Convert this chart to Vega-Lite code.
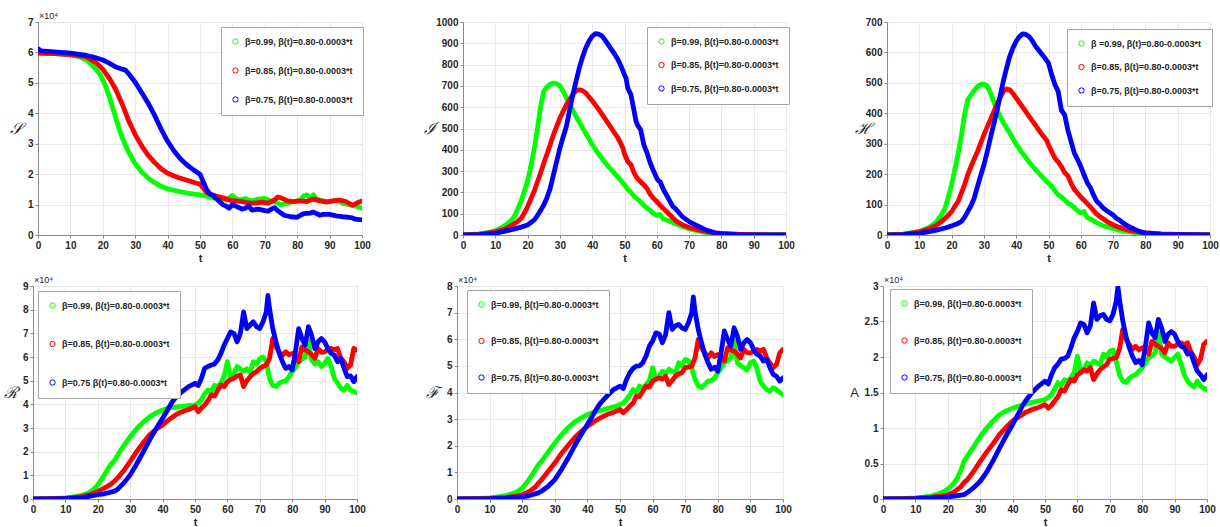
{
"$schema":"https://vega.github.io/schema/vega-lite/v6.json",
"background":"white",
"padding":{"left":2,"top":11,"right":5,"bottom":5},
"datasets":{
"S":[
{"beta":"0.99","t":0,"v":59800},{"beta":"0.99","t":5,"v":59600},{"beta":"0.99","t":10,"v":59200},{"beta":"0.99","t":13,"v":58500},{"beta":"0.99","t":15,"v":57500},{"beta":"0.99","t":17,"v":55500},{"beta":"0.99","t":19,"v":53000},{"beta":"0.99","t":20,"v":51000},{"beta":"0.99","t":21,"v":48500},{"beta":"0.99","t":22,"v":45500},{"beta":"0.99","t":23,"v":42000},{"beta":"0.99","t":24,"v":38500},{"beta":"0.99","t":25,"v":35000},{"beta":"0.99","t":26,"v":32000},{"beta":"0.99","t":27,"v":29500},{"beta":"0.99","t":28,"v":27200},{"beta":"0.99","t":30,"v":23500},{"beta":"0.99","t":32,"v":20700},{"beta":"0.99","t":34,"v":18700},{"beta":"0.99","t":36,"v":17200},{"beta":"0.99","t":38,"v":16000},{"beta":"0.99","t":40,"v":15200},{"beta":"0.99","t":43,"v":14400},{"beta":"0.99","t":46,"v":13800},{"beta":"0.99","t":50,"v":13200},{"beta":"0.99","t":52,"v":12800},{"beta":"0.99","t":54,"v":12200},{"beta":"0.99","t":56,"v":12000},{"beta":"0.99","t":58,"v":11500},{"beta":"0.99","t":60,"v":13000},{"beta":"0.99","t":61,"v":12000},{"beta":"0.99","t":62,"v":11500},{"beta":"0.99","t":64,"v":12000},{"beta":"0.99","t":66,"v":11200},{"beta":"0.99","t":68,"v":11800},{"beta":"0.99","t":70,"v":12000},{"beta":"0.99","t":72,"v":11200},{"beta":"0.99","t":74,"v":10500},{"beta":"0.99","t":75,"v":10000},{"beta":"0.99","t":77,"v":10500},{"beta":"0.99","t":79,"v":11000},{"beta":"0.99","t":81,"v":11500},{"beta":"0.99","t":82,"v":12800},{"beta":"0.99","t":83,"v":13200},{"beta":"0.99","t":84,"v":12200},{"beta":"0.99","t":85,"v":13200},{"beta":"0.99","t":86,"v":11800},{"beta":"0.99","t":88,"v":11200},{"beta":"0.99","t":90,"v":11000},{"beta":"0.99","t":92,"v":11500},{"beta":"0.99","t":94,"v":10500},{"beta":"0.99","t":96,"v":10000},{"beta":"0.99","t":98,"v":9500},{"beta":"0.99","t":100,"v":8800},
{"beta":"0.85","t":0,"v":59800},{"beta":"0.85","t":5,"v":59600},{"beta":"0.85","t":10,"v":59300},{"beta":"0.85","t":15,"v":58500},{"beta":"0.85","t":18,"v":56500},{"beta":"0.85","t":20,"v":54500},{"beta":"0.85","t":22,"v":51500},{"beta":"0.85","t":24,"v":47800},{"beta":"0.85","t":26,"v":43000},{"beta":"0.85","t":28,"v":37500},{"beta":"0.85","t":30,"v":33000},{"beta":"0.85","t":32,"v":29300},{"beta":"0.85","t":34,"v":26200},{"beta":"0.85","t":36,"v":23800},{"beta":"0.85","t":38,"v":21800},{"beta":"0.85","t":40,"v":20300},{"beta":"0.85","t":43,"v":19000},{"beta":"0.85","t":46,"v":18000},{"beta":"0.85","t":49,"v":17000},{"beta":"0.85","t":50,"v":16700},{"beta":"0.85","t":51,"v":15500},{"beta":"0.85","t":52,"v":14000},{"beta":"0.85","t":53,"v":13500},{"beta":"0.85","t":55,"v":12800},{"beta":"0.85","t":57,"v":12200},{"beta":"0.85","t":59,"v":11500},{"beta":"0.85","t":61,"v":11200},{"beta":"0.85","t":63,"v":11000},{"beta":"0.85","t":65,"v":10500},{"beta":"0.85","t":67,"v":10500},{"beta":"0.85","t":69,"v":10800},{"beta":"0.85","t":71,"v":10500},{"beta":"0.85","t":73,"v":11500},{"beta":"0.85","t":74,"v":12500},{"beta":"0.85","t":75,"v":12200},{"beta":"0.85","t":77,"v":11200},{"beta":"0.85","t":79,"v":11000},{"beta":"0.85","t":81,"v":11200},{"beta":"0.85","t":83,"v":11000},{"beta":"0.85","t":85,"v":11800},{"beta":"0.85","t":87,"v":11200},{"beta":"0.85","t":89,"v":10800},{"beta":"0.85","t":91,"v":11200},{"beta":"0.85","t":93,"v":11500},{"beta":"0.85","t":95,"v":11000},{"beta":"0.85","t":97,"v":9800},{"beta":"0.85","t":98,"v":10200},{"beta":"0.85","t":99,"v":10800},{"beta":"0.85","t":100,"v":11200},
{"beta":"0.75","t":0,"v":61200},{"beta":"0.75","t":1,"v":60500},{"beta":"0.75","t":5,"v":60200},{"beta":"0.75","t":10,"v":59800},{"beta":"0.75","t":15,"v":59000},{"beta":"0.75","t":18,"v":58200},{"beta":"0.75","t":20,"v":57500},{"beta":"0.75","t":22,"v":56500},{"beta":"0.75","t":24,"v":55200},{"beta":"0.75","t":26,"v":54500},{"beta":"0.75","t":27,"v":54200},{"beta":"0.75","t":28,"v":53000},{"beta":"0.75","t":30,"v":50200},{"beta":"0.75","t":32,"v":46800},{"beta":"0.75","t":34,"v":43300},{"beta":"0.75","t":36,"v":39300},{"beta":"0.75","t":38,"v":34800},{"beta":"0.75","t":40,"v":30800},{"beta":"0.75","t":42,"v":27600},{"beta":"0.75","t":44,"v":25000},{"beta":"0.75","t":46,"v":23000},{"beta":"0.75","t":48,"v":21400},{"beta":"0.75","t":50,"v":20000},{"beta":"0.75","t":51,"v":17500},{"beta":"0.75","t":52,"v":15000},{"beta":"0.75","t":53,"v":13500},{"beta":"0.75","t":54,"v":13000},{"beta":"0.75","t":55,"v":12000},{"beta":"0.75","t":56,"v":11000},{"beta":"0.75","t":57,"v":10000},{"beta":"0.75","t":58,"v":9500},{"beta":"0.75","t":59,"v":8800},{"beta":"0.75","t":60,"v":10000},{"beta":"0.75","t":61,"v":9500},{"beta":"0.75","t":62,"v":9000},{"beta":"0.75","t":63,"v":8500},{"beta":"0.75","t":64,"v":8800},{"beta":"0.75","t":65,"v":9500},{"beta":"0.75","t":66,"v":8200},{"beta":"0.75","t":68,"v":8500},{"beta":"0.75","t":70,"v":8000},{"beta":"0.75","t":71,"v":7800},{"beta":"0.75","t":72,"v":8500},{"beta":"0.75","t":73,"v":9000},{"beta":"0.75","t":74,"v":8000},{"beta":"0.75","t":75,"v":7200},{"beta":"0.75","t":76,"v":6500},{"beta":"0.75","t":78,"v":6000},{"beta":"0.75","t":80,"v":5800},{"beta":"0.75","t":81,"v":6500},{"beta":"0.75","t":82,"v":7000},{"beta":"0.75","t":84,"v":7200},{"beta":"0.75","t":85,"v":7500},{"beta":"0.75","t":86,"v":7000},{"beta":"0.75","t":87,"v":6500},{"beta":"0.75","t":88,"v":6800},{"beta":"0.75","t":90,"v":6800},{"beta":"0.75","t":92,"v":6300},{"beta":"0.75","t":94,"v":6000},{"beta":"0.75","t":96,"v":5800},{"beta":"0.75","t":97,"v":5600},{"beta":"0.75","t":98,"v":5200},{"beta":"0.75","t":100,"v":5000}
],
"I":[
{"beta":"0.99","t":0,"v":0},{"beta":"0.99","t":5,"v":5},{"beta":"0.99","t":8,"v":12},{"beta":"0.99","t":10,"v":20},{"beta":"0.99","t":12,"v":35},{"beta":"0.99","t":14,"v":55},{"beta":"0.99","t":15,"v":70},{"beta":"0.99","t":16,"v":90},{"beta":"0.99","t":17,"v":125},{"beta":"0.99","t":18,"v":160},{"beta":"0.99","t":19,"v":205},{"beta":"0.99","t":20,"v":255},{"beta":"0.99","t":21,"v":320},{"beta":"0.99","t":22,"v":400},{"beta":"0.99","t":23,"v":495},{"beta":"0.99","t":24,"v":600},{"beta":"0.99","t":25,"v":675},{"beta":"0.99","t":26,"v":695},{"beta":"0.99","t":27,"v":708},{"beta":"0.99","t":28,"v":713},{"beta":"0.99","t":29,"v":710},{"beta":"0.99","t":30,"v":700},{"beta":"0.99","t":31,"v":675},{"beta":"0.99","t":32,"v":645},{"beta":"0.99","t":33,"v":615},{"beta":"0.99","t":34,"v":585},{"beta":"0.99","t":35,"v":557},{"beta":"0.99","t":36,"v":530},{"beta":"0.99","t":38,"v":478},{"beta":"0.99","t":40,"v":425},{"beta":"0.99","t":42,"v":380},{"beta":"0.99","t":44,"v":340},{"beta":"0.99","t":46,"v":305},{"beta":"0.99","t":48,"v":272},{"beta":"0.99","t":50,"v":235},{"beta":"0.99","t":51,"v":215},{"beta":"0.99","t":52,"v":200},{"beta":"0.99","t":53,"v":180},{"beta":"0.99","t":54,"v":168},{"beta":"0.99","t":55,"v":155},{"beta":"0.99","t":56,"v":140},{"beta":"0.99","t":57,"v":125},{"beta":"0.99","t":58,"v":115},{"beta":"0.99","t":59,"v":100},{"beta":"0.99","t":60,"v":92},{"beta":"0.99","t":61,"v":97},{"beta":"0.99","t":62,"v":75},{"beta":"0.99","t":63,"v":70},{"beta":"0.99","t":65,"v":58},{"beta":"0.99","t":67,"v":45},{"beta":"0.99","t":70,"v":30},{"beta":"0.99","t":72,"v":22},{"beta":"0.99","t":75,"v":12},{"beta":"0.99","t":78,"v":6},{"beta":"0.99","t":80,"v":4},{"beta":"0.99","t":85,"v":2},{"beta":"0.99","t":90,"v":1},{"beta":"0.99","t":100,"v":0},
{"beta":"0.85","t":0,"v":0},{"beta":"0.85","t":5,"v":3},{"beta":"0.85","t":10,"v":15},{"beta":"0.85","t":13,"v":28},{"beta":"0.85","t":15,"v":45},{"beta":"0.85","t":17,"v":65},{"beta":"0.85","t":18,"v":78},{"beta":"0.85","t":19,"v":103},{"beta":"0.85","t":20,"v":133},{"beta":"0.85","t":22,"v":204},{"beta":"0.85","t":24,"v":290},{"beta":"0.85","t":25,"v":337},{"beta":"0.85","t":26,"v":380},{"beta":"0.85","t":28,"v":470},{"beta":"0.85","t":30,"v":549},{"beta":"0.85","t":32,"v":611},{"beta":"0.85","t":34,"v":660},{"beta":"0.85","t":35,"v":678},{"beta":"0.85","t":36,"v":682},{"beta":"0.85","t":37,"v":678},{"beta":"0.85","t":38,"v":667},{"beta":"0.85","t":40,"v":630},{"beta":"0.85","t":42,"v":590},{"beta":"0.85","t":44,"v":545},{"beta":"0.85","t":46,"v":500},{"beta":"0.85","t":48,"v":455},{"beta":"0.85","t":49,"v":425},{"beta":"0.85","t":49.5,"v":408},{"beta":"0.85","t":50,"v":380},{"beta":"0.85","t":51,"v":345},{"beta":"0.85","t":52,"v":330},{"beta":"0.85","t":53,"v":290},{"beta":"0.85","t":54,"v":265},{"beta":"0.85","t":55,"v":250},{"beta":"0.85","t":56,"v":235},{"beta":"0.85","t":57,"v":218},{"beta":"0.85","t":58,"v":190},{"beta":"0.85","t":59,"v":172},{"beta":"0.85","t":60,"v":157},{"beta":"0.85","t":61,"v":140},{"beta":"0.85","t":62,"v":125},{"beta":"0.85","t":64,"v":95},{"beta":"0.85","t":65,"v":80},{"beta":"0.85","t":66,"v":65},{"beta":"0.85","t":68,"v":47},{"beta":"0.85","t":70,"v":35},{"beta":"0.85","t":72,"v":27},{"beta":"0.85","t":75,"v":17},{"beta":"0.85","t":78,"v":10},{"beta":"0.85","t":80,"v":8},{"beta":"0.85","t":85,"v":4},{"beta":"0.85","t":90,"v":2},{"beta":"0.85","t":95,"v":1},{"beta":"0.85","t":100,"v":0},
{"beta":"0.75","t":0,"v":0},{"beta":"0.75","t":5,"v":2},{"beta":"0.75","t":10,"v":8},{"beta":"0.75","t":15,"v":25},{"beta":"0.75","t":18,"v":37},{"beta":"0.75","t":20,"v":47},{"beta":"0.75","t":22,"v":70},{"beta":"0.75","t":23,"v":90},{"beta":"0.75","t":24,"v":115},{"beta":"0.75","t":25,"v":141},{"beta":"0.75","t":26,"v":175},{"beta":"0.75","t":27,"v":219},{"beta":"0.75","t":28,"v":282},{"beta":"0.75","t":29,"v":345},{"beta":"0.75","t":30,"v":408},{"beta":"0.75","t":31,"v":460},{"beta":"0.75","t":32,"v":509},{"beta":"0.75","t":33,"v":585},{"beta":"0.75","t":34,"v":658},{"beta":"0.75","t":35,"v":722},{"beta":"0.75","t":36,"v":784},{"beta":"0.75","t":37,"v":835},{"beta":"0.75","t":38,"v":878},{"beta":"0.75","t":39,"v":910},{"beta":"0.75","t":40,"v":933},{"beta":"0.75","t":41,"v":945},{"beta":"0.75","t":42,"v":943},{"beta":"0.75","t":43,"v":935},{"beta":"0.75","t":44,"v":915},{"beta":"0.75","t":45,"v":893},{"beta":"0.75","t":46,"v":870},{"beta":"0.75","t":47,"v":848},{"beta":"0.75","t":48,"v":823},{"beta":"0.75","t":49,"v":790},{"beta":"0.75","t":50,"v":752},{"beta":"0.75","t":50.5,"v":735},{"beta":"0.75","t":51,"v":690},{"beta":"0.75","t":52,"v":658},{"beta":"0.75","t":53,"v":580},{"beta":"0.75","t":53.5,"v":540},{"beta":"0.75","t":54,"v":517},{"beta":"0.75","t":55,"v":494},{"beta":"0.75","t":56,"v":423},{"beta":"0.75","t":57,"v":384},{"beta":"0.75","t":58,"v":337},{"beta":"0.75","t":59,"v":300},{"beta":"0.75","t":60,"v":266},{"beta":"0.75","t":60.5,"v":255},{"beta":"0.75","t":61,"v":251},{"beta":"0.75","t":62,"v":215},{"beta":"0.75","t":63,"v":188},{"beta":"0.75","t":64,"v":160},{"beta":"0.75","t":65,"v":133},{"beta":"0.75","t":66,"v":120},{"beta":"0.75","t":67,"v":102},{"beta":"0.75","t":68,"v":85},{"beta":"0.75","t":70,"v":63},{"beta":"0.75","t":71,"v":55},{"beta":"0.75","t":72,"v":47},{"beta":"0.75","t":73,"v":40},{"beta":"0.75","t":75,"v":25},{"beta":"0.75","t":78,"v":10},{"beta":"0.75","t":80,"v":5},{"beta":"0.75","t":85,"v":2},{"beta":"0.75","t":90,"v":1},{"beta":"0.75","t":100,"v":0}
],
"H":[
{"beta":"0.99","t":0,"v":0},{"beta":"0.99","t":5,"v":3},{"beta":"0.99","t":10,"v":12},{"beta":"0.99","t":13,"v":25},{"beta":"0.99","t":15,"v":40},{"beta":"0.99","t":17,"v":68},{"beta":"0.99","t":18,"v":90},{"beta":"0.99","t":19,"v":125},{"beta":"0.99","t":20,"v":165},{"beta":"0.99","t":21,"v":215},{"beta":"0.99","t":22,"v":265},{"beta":"0.99","t":23,"v":325},{"beta":"0.99","t":24,"v":395},{"beta":"0.99","t":25,"v":445},{"beta":"0.99","t":26,"v":460},{"beta":"0.99","t":27,"v":475},{"beta":"0.99","t":28,"v":488},{"beta":"0.99","t":29,"v":495},{"beta":"0.99","t":30,"v":496},{"beta":"0.99","t":31,"v":490},{"beta":"0.99","t":32,"v":468},{"beta":"0.99","t":33,"v":440},{"beta":"0.99","t":34,"v":413},{"beta":"0.99","t":35,"v":390},{"beta":"0.99","t":36,"v":370},{"beta":"0.99","t":38,"v":335},{"beta":"0.99","t":40,"v":298},{"beta":"0.99","t":42,"v":268},{"beta":"0.99","t":44,"v":240},{"beta":"0.99","t":46,"v":215},{"beta":"0.99","t":48,"v":192},{"beta":"0.99","t":50,"v":170},{"beta":"0.99","t":51,"v":160},{"beta":"0.99","t":52,"v":145},{"beta":"0.99","t":53,"v":132},{"beta":"0.99","t":54,"v":125},{"beta":"0.99","t":55,"v":115},{"beta":"0.99","t":56,"v":105},{"beta":"0.99","t":57,"v":99},{"beta":"0.99","t":58,"v":90},{"beta":"0.99","t":59,"v":80},{"beta":"0.99","t":60,"v":72},{"beta":"0.99","t":61,"v":77},{"beta":"0.99","t":62,"v":57},{"beta":"0.99","t":63,"v":52},{"beta":"0.99","t":65,"v":40},{"beta":"0.99","t":67,"v":30},{"beta":"0.99","t":70,"v":22},{"beta":"0.99","t":72,"v":15},{"beta":"0.99","t":75,"v":10},{"beta":"0.99","t":78,"v":5},{"beta":"0.99","t":80,"v":4},{"beta":"0.99","t":85,"v":2},{"beta":"0.99","t":90,"v":1},{"beta":"0.99","t":100,"v":0},
{"beta":"0.85","t":0,"v":0},{"beta":"0.85","t":5,"v":2},{"beta":"0.85","t":10,"v":10},{"beta":"0.85","t":13,"v":20},{"beta":"0.85","t":15,"v":30},{"beta":"0.85","t":17,"v":45},{"beta":"0.85","t":18,"v":55},{"beta":"0.85","t":19,"v":65},{"beta":"0.85","t":20,"v":77},{"beta":"0.85","t":22,"v":110},{"beta":"0.85","t":24,"v":165},{"beta":"0.85","t":25,"v":198},{"beta":"0.85","t":26,"v":225},{"beta":"0.85","t":28,"v":274},{"beta":"0.85","t":30,"v":329},{"beta":"0.85","t":32,"v":379},{"beta":"0.85","t":34,"v":428},{"beta":"0.85","t":35,"v":450},{"beta":"0.85","t":36,"v":472},{"beta":"0.85","t":37,"v":480},{"beta":"0.85","t":38,"v":477},{"beta":"0.85","t":39,"v":465},{"beta":"0.85","t":40,"v":450},{"beta":"0.85","t":42,"v":420},{"beta":"0.85","t":44,"v":390},{"beta":"0.85","t":45,"v":375},{"beta":"0.85","t":46,"v":360},{"beta":"0.85","t":48,"v":330},{"beta":"0.85","t":49.5,"v":310},{"beta":"0.85","t":50,"v":296},{"beta":"0.85","t":51,"v":274},{"beta":"0.85","t":52,"v":252},{"beta":"0.85","t":53,"v":240},{"beta":"0.85","t":54,"v":225},{"beta":"0.85","t":55,"v":205},{"beta":"0.85","t":56,"v":195},{"beta":"0.85","t":57,"v":170},{"beta":"0.85","t":58,"v":150},{"beta":"0.85","t":60,"v":125},{"beta":"0.85","t":62,"v":103},{"beta":"0.85","t":63,"v":92},{"beta":"0.85","t":65,"v":68},{"beta":"0.85","t":66,"v":60},{"beta":"0.85","t":68,"v":45},{"beta":"0.85","t":70,"v":33},{"beta":"0.85","t":72,"v":25},{"beta":"0.85","t":75,"v":15},{"beta":"0.85","t":80,"v":8},{"beta":"0.85","t":85,"v":4},{"beta":"0.85","t":90,"v":2},{"beta":"0.85","t":95,"v":1},{"beta":"0.85","t":100,"v":0},
{"beta":"0.75","t":0,"v":0},{"beta":"0.75","t":5,"v":1},{"beta":"0.75","t":10,"v":5},{"beta":"0.75","t":15,"v":15},{"beta":"0.75","t":18,"v":23},{"beta":"0.75","t":20,"v":30},{"beta":"0.75","t":22,"v":38},{"beta":"0.75","t":23,"v":44},{"beta":"0.75","t":24,"v":58},{"beta":"0.75","t":25,"v":77},{"beta":"0.75","t":26,"v":96},{"beta":"0.75","t":27,"v":121},{"beta":"0.75","t":28,"v":159},{"beta":"0.75","t":29,"v":195},{"beta":"0.75","t":30,"v":230},{"beta":"0.75","t":31,"v":272},{"beta":"0.75","t":32,"v":318},{"beta":"0.75","t":33,"v":362},{"beta":"0.75","t":34,"v":406},{"beta":"0.75","t":35,"v":455},{"beta":"0.75","t":36,"v":505},{"beta":"0.75","t":37,"v":548},{"beta":"0.75","t":38,"v":587},{"beta":"0.75","t":39,"v":615},{"beta":"0.75","t":40,"v":637},{"beta":"0.75","t":41,"v":652},{"beta":"0.75","t":42,"v":661},{"beta":"0.75","t":43,"v":659},{"beta":"0.75","t":44,"v":652},{"beta":"0.75","t":45,"v":638},{"beta":"0.75","t":46,"v":620},{"beta":"0.75","t":47,"v":607},{"beta":"0.75","t":48,"v":593},{"beta":"0.75","t":49,"v":580},{"beta":"0.75","t":50,"v":565},{"beta":"0.75","t":50.5,"v":545},{"beta":"0.75","t":51,"v":527},{"beta":"0.75","t":52,"v":494},{"beta":"0.75","t":53,"v":472},{"beta":"0.75","t":53.5,"v":440},{"beta":"0.75","t":54,"v":410},{"beta":"0.75","t":55,"v":395},{"beta":"0.75","t":56,"v":345},{"beta":"0.75","t":57,"v":307},{"beta":"0.75","t":58,"v":269},{"beta":"0.75","t":59,"v":248},{"beta":"0.75","t":60,"v":225},{"beta":"0.75","t":61,"v":198},{"beta":"0.75","t":62,"v":172},{"beta":"0.75","t":63,"v":155},{"beta":"0.75","t":64,"v":130},{"beta":"0.75","t":65,"v":110},{"beta":"0.75","t":66,"v":100},{"beta":"0.75","t":67,"v":88},{"beta":"0.75","t":68,"v":80},{"beta":"0.75","t":70,"v":66},{"beta":"0.75","t":71,"v":55},{"beta":"0.75","t":72,"v":49},{"beta":"0.75","t":73,"v":40},{"beta":"0.75","t":75,"v":27},{"beta":"0.75","t":78,"v":12},{"beta":"0.75","t":80,"v":6},{"beta":"0.75","t":85,"v":2},{"beta":"0.75","t":90,"v":1},{"beta":"0.75","t":100,"v":0}
],
"R":[
{"beta":"0.99","t":0,"v":0},{"beta":"0.99","t":5,"v":100},{"beta":"0.99","t":10,"v":500},{"beta":"0.99","t":13,"v":1000},{"beta":"0.99","t":15,"v":1500},{"beta":"0.99","t":17,"v":2500},{"beta":"0.99","t":18,"v":3300},{"beta":"0.99","t":19,"v":4500},{"beta":"0.99","t":20,"v":6000},{"beta":"0.99","t":21,"v":8000},{"beta":"0.99","t":22,"v":10200},{"beta":"0.99","t":23,"v":12500},{"beta":"0.99","t":24,"v":14500},{"beta":"0.99","t":25,"v":16000},{"beta":"0.99","t":26,"v":18200},{"beta":"0.99","t":27,"v":20500},{"beta":"0.99","t":28,"v":22500},{"beta":"0.99","t":30,"v":26400},{"beta":"0.99","t":32,"v":29700},{"beta":"0.99","t":34,"v":32500},{"beta":"0.99","t":36,"v":34700},{"beta":"0.99","t":38,"v":36400},{"beta":"0.99","t":40,"v":37600},{"beta":"0.99","t":42,"v":38400},{"beta":"0.99","t":45,"v":39000},{"beta":"0.99","t":48,"v":39400},{"beta":"0.99","t":50,"v":39700},{"beta":"0.99","t":51,"v":40500},{"beta":"0.99","t":52,"v":42000},{"beta":"0.99","t":53,"v":44500},{"beta":"0.99","t":54,"v":46000},{"beta":"0.99","t":55,"v":45500},{"beta":"0.99","t":56,"v":48000},{"beta":"0.99","t":57,"v":47500},{"beta":"0.99","t":58,"v":49000},{"beta":"0.99","t":59,"v":52000},{"beta":"0.99","t":60,"v":58000},{"beta":"0.99","t":61,"v":51700},{"beta":"0.99","t":62,"v":53000},{"beta":"0.99","t":63,"v":56000},{"beta":"0.99","t":64,"v":55000},{"beta":"0.99","t":65,"v":54000},{"beta":"0.99","t":66,"v":55000},{"beta":"0.99","t":67,"v":53500},{"beta":"0.99","t":68,"v":58000},{"beta":"0.99","t":69,"v":57000},{"beta":"0.99","t":70,"v":59400},{"beta":"0.99","t":71,"v":60000},{"beta":"0.99","t":72,"v":58000},{"beta":"0.99","t":73,"v":51000},{"beta":"0.99","t":74,"v":48000},{"beta":"0.99","t":75,"v":47500},{"beta":"0.99","t":76,"v":49000},{"beta":"0.99","t":77,"v":49500},{"beta":"0.99","t":78,"v":50000},{"beta":"0.99","t":79,"v":51700},{"beta":"0.99","t":80,"v":53800},{"beta":"0.99","t":81,"v":55500},{"beta":"0.99","t":82,"v":58000},{"beta":"0.99","t":83,"v":59000},{"beta":"0.99","t":84,"v":60000},{"beta":"0.99","t":85,"v":67000},{"beta":"0.99","t":86,"v":58700},{"beta":"0.99","t":87,"v":57000},{"beta":"0.99","t":88,"v":58000},{"beta":"0.99","t":89,"v":56000},{"beta":"0.99","t":90,"v":57300},{"beta":"0.99","t":91,"v":59400},{"beta":"0.99","t":92,"v":56000},{"beta":"0.99","t":93,"v":51000},{"beta":"0.99","t":94,"v":49000},{"beta":"0.99","t":95,"v":46800},{"beta":"0.99","t":96,"v":46000},{"beta":"0.99","t":97,"v":48000},{"beta":"0.99","t":98,"v":46000},{"beta":"0.99","t":99,"v":45500},{"beta":"0.99","t":100,"v":44700},
{"beta":"0.85","t":0,"v":0},{"beta":"0.85","t":5,"v":100},{"beta":"0.85","t":10,"v":300},{"beta":"0.85","t":15,"v":1000},{"beta":"0.85","t":18,"v":2000},{"beta":"0.85","t":20,"v":3200},{"beta":"0.85","t":22,"v":4600},{"beta":"0.85","t":24,"v":6200},{"beta":"0.85","t":25,"v":7400},{"beta":"0.85","t":26,"v":8700},{"beta":"0.85","t":28,"v":12000},{"beta":"0.85","t":30,"v":15900},{"beta":"0.85","t":32,"v":20000},{"beta":"0.85","t":34,"v":23800},{"beta":"0.85","t":36,"v":27100},{"beta":"0.85","t":38,"v":29500},{"beta":"0.85","t":40,"v":31300},{"beta":"0.85","t":42,"v":33600},{"beta":"0.85","t":44,"v":35500},{"beta":"0.85","t":46,"v":36900},{"beta":"0.85","t":48,"v":37800},{"beta":"0.85","t":50,"v":39000},{"beta":"0.85","t":51,"v":36900},{"beta":"0.85","t":52,"v":38500},{"beta":"0.85","t":53,"v":39700},{"beta":"0.85","t":54,"v":41500},{"beta":"0.85","t":55,"v":44000},{"beta":"0.85","t":56,"v":43500},{"beta":"0.85","t":57,"v":46000},{"beta":"0.85","t":58,"v":48200},{"beta":"0.85","t":59,"v":47500},{"beta":"0.85","t":60,"v":49600},{"beta":"0.85","t":61,"v":50500},{"beta":"0.85","t":62,"v":51000},{"beta":"0.85","t":63,"v":52000},{"beta":"0.85","t":64,"v":52400},{"beta":"0.85","t":65,"v":47500},{"beta":"0.85","t":66,"v":50000},{"beta":"0.85","t":67,"v":51700},{"beta":"0.85","t":68,"v":53000},{"beta":"0.85","t":69,"v":53800},{"beta":"0.85","t":70,"v":55200},{"beta":"0.85","t":71,"v":56000},{"beta":"0.85","t":72,"v":56600},{"beta":"0.85","t":73,"v":59400},{"beta":"0.85","t":74,"v":67800},{"beta":"0.85","t":75,"v":64300},{"beta":"0.85","t":76,"v":62000},{"beta":"0.85","t":77,"v":60800},{"beta":"0.85","t":78,"v":62200},{"beta":"0.85","t":79,"v":61000},{"beta":"0.85","t":80,"v":61500},{"beta":"0.85","t":81,"v":60500},{"beta":"0.85","t":82,"v":58000},{"beta":"0.85","t":83,"v":64300},{"beta":"0.85","t":84,"v":63000},{"beta":"0.85","t":85,"v":62200},{"beta":"0.85","t":86,"v":61000},{"beta":"0.85","t":87,"v":59400},{"beta":"0.85","t":88,"v":63600},{"beta":"0.85","t":89,"v":62000},{"beta":"0.85","t":90,"v":62200},{"beta":"0.85","t":91,"v":63000},{"beta":"0.85","t":92,"v":63600},{"beta":"0.85","t":93,"v":63000},{"beta":"0.85","t":94,"v":63600},{"beta":"0.85","t":95,"v":59400},{"beta":"0.85","t":96,"v":58000},{"beta":"0.85","t":97,"v":55200},{"beta":"0.85","t":98,"v":56600},{"beta":"0.85","t":99,"v":63600},{"beta":"0.85","t":100,"v":62900},
{"beta":"0.75","t":0,"v":0},{"beta":"0.75","t":5,"v":50},{"beta":"0.75","t":10,"v":200},{"beta":"0.75","t":15,"v":500},{"beta":"0.75","t":20,"v":1800},{"beta":"0.75","t":22,"v":2200},{"beta":"0.75","t":25,"v":3200},{"beta":"0.75","t":26,"v":4000},{"beta":"0.75","t":28,"v":6700},{"beta":"0.75","t":30,"v":10200},{"beta":"0.75","t":32,"v":14800},{"beta":"0.75","t":34,"v":19800},{"beta":"0.75","t":36,"v":25000},{"beta":"0.75","t":38,"v":29700},{"beta":"0.75","t":40,"v":34100},{"beta":"0.75","t":42,"v":38800},{"beta":"0.75","t":43,"v":41100},{"beta":"0.75","t":44,"v":42800},{"beta":"0.75","t":46,"v":45400},{"beta":"0.75","t":48,"v":47500},{"beta":"0.75","t":50,"v":48900},{"beta":"0.75","t":51,"v":48000},{"beta":"0.75","t":52,"v":51000},{"beta":"0.75","t":53,"v":55200},{"beta":"0.75","t":54,"v":56000},{"beta":"0.75","t":55,"v":56600},{"beta":"0.75","t":56,"v":57000},{"beta":"0.75","t":57,"v":58700},{"beta":"0.75","t":58,"v":61500},{"beta":"0.75","t":59,"v":65000},{"beta":"0.75","t":60,"v":67800},{"beta":"0.75","t":61,"v":70600},{"beta":"0.75","t":62,"v":70000},{"beta":"0.75","t":63,"v":66400},{"beta":"0.75","t":64,"v":70000},{"beta":"0.75","t":65,"v":79000},{"beta":"0.75","t":66,"v":72000},{"beta":"0.75","t":67,"v":73500},{"beta":"0.75","t":68,"v":74900},{"beta":"0.75","t":69,"v":72800},{"beta":"0.75","t":70,"v":72000},{"beta":"0.75","t":71,"v":74900},{"beta":"0.75","t":72,"v":79000},{"beta":"0.75","t":72.5,"v":86000},{"beta":"0.75","t":73,"v":80500},{"beta":"0.75","t":74,"v":72000},{"beta":"0.75","t":75,"v":66400},{"beta":"0.75","t":76,"v":61500},{"beta":"0.75","t":77,"v":58000},{"beta":"0.75","t":78,"v":55200},{"beta":"0.75","t":79,"v":56000},{"beta":"0.75","t":80,"v":54500},{"beta":"0.75","t":81,"v":62200},{"beta":"0.75","t":82,"v":72000},{"beta":"0.75","t":83,"v":67800},{"beta":"0.75","t":84,"v":65000},{"beta":"0.75","t":85,"v":72800},{"beta":"0.75","t":86,"v":69200},{"beta":"0.75","t":87,"v":63600},{"beta":"0.75","t":88,"v":66400},{"beta":"0.75","t":89,"v":67800},{"beta":"0.75","t":90,"v":66400},{"beta":"0.75","t":91,"v":63600},{"beta":"0.75","t":92,"v":61500},{"beta":"0.75","t":93,"v":60800},{"beta":"0.75","t":94,"v":58000},{"beta":"0.75","t":95,"v":59400},{"beta":"0.75","t":96,"v":55200},{"beta":"0.75","t":97,"v":51700},{"beta":"0.75","t":98,"v":52000},{"beta":"0.75","t":99,"v":49600},{"beta":"0.75","t":100,"v":51700}
],
"F":[
{"beta":"0.99","t":0,"v":0},{"beta":"0.99","t":5,"v":100},{"beta":"0.99","t":10,"v":400},{"beta":"0.99","t":13,"v":900},{"beta":"0.99","t":15,"v":1300},{"beta":"0.99","t":17,"v":2000},{"beta":"0.99","t":18,"v":2500},{"beta":"0.99","t":19,"v":3200},{"beta":"0.99","t":20,"v":4000},{"beta":"0.99","t":21,"v":5500},{"beta":"0.99","t":22,"v":7200},{"beta":"0.99","t":23,"v":9000},{"beta":"0.99","t":24,"v":11000},{"beta":"0.99","t":25,"v":12900},{"beta":"0.99","t":26,"v":14200},{"beta":"0.99","t":27,"v":16000},{"beta":"0.99","t":28,"v":17700},{"beta":"0.99","t":30,"v":21000},{"beta":"0.99","t":32,"v":24000},{"beta":"0.99","t":34,"v":26700},{"beta":"0.99","t":36,"v":28800},{"beta":"0.99","t":38,"v":30400},{"beta":"0.99","t":40,"v":31700},{"beta":"0.99","t":42,"v":32600},{"beta":"0.99","t":45,"v":33600},{"beta":"0.99","t":48,"v":34600},{"beta":"0.99","t":50,"v":35500},{"beta":"0.99","t":51,"v":36000},{"beta":"0.99","t":52,"v":37400},{"beta":"0.99","t":53,"v":39000},{"beta":"0.99","t":54,"v":41100},{"beta":"0.99","t":55,"v":40000},{"beta":"0.99","t":56,"v":42400},{"beta":"0.99","t":57,"v":41500},{"beta":"0.99","t":58,"v":43000},{"beta":"0.99","t":59,"v":44500},{"beta":"0.99","t":60,"v":49300},{"beta":"0.99","t":61,"v":44900},{"beta":"0.99","t":62,"v":46000},{"beta":"0.99","t":63,"v":48000},{"beta":"0.99","t":64,"v":47000},{"beta":"0.99","t":65,"v":48700},{"beta":"0.99","t":66,"v":48000},{"beta":"0.99","t":67,"v":47400},{"beta":"0.99","t":68,"v":51200},{"beta":"0.99","t":69,"v":50000},{"beta":"0.99","t":70,"v":52400},{"beta":"0.99","t":71,"v":52000},{"beta":"0.99","t":72,"v":49300},{"beta":"0.99","t":73,"v":44900},{"beta":"0.99","t":74,"v":42500},{"beta":"0.99","t":75,"v":41800},{"beta":"0.99","t":76,"v":43000},{"beta":"0.99","t":77,"v":44300},{"beta":"0.99","t":78,"v":44500},{"beta":"0.99","t":79,"v":45500},{"beta":"0.99","t":80,"v":47400},{"beta":"0.99","t":81,"v":49000},{"beta":"0.99","t":82,"v":51200},{"beta":"0.99","t":83,"v":52000},{"beta":"0.99","t":84,"v":53000},{"beta":"0.99","t":85,"v":59300},{"beta":"0.99","t":86,"v":51200},{"beta":"0.99","t":87,"v":50000},{"beta":"0.99","t":88,"v":49300},{"beta":"0.99","t":89,"v":48500},{"beta":"0.99","t":90,"v":51200},{"beta":"0.99","t":91,"v":51800},{"beta":"0.99","t":92,"v":49000},{"beta":"0.99","t":93,"v":44300},{"beta":"0.99","t":94,"v":42500},{"beta":"0.99","t":95,"v":41100},{"beta":"0.99","t":96,"v":40500},{"beta":"0.99","t":97,"v":41800},{"beta":"0.99","t":98,"v":41100},{"beta":"0.99","t":99,"v":40000},{"beta":"0.99","t":100,"v":39200},
{"beta":"0.85","t":0,"v":0},{"beta":"0.85","t":10,"v":200},{"beta":"0.85","t":15,"v":600},{"beta":"0.85","t":18,"v":1100},{"beta":"0.85","t":20,"v":1600},{"beta":"0.85","t":22,"v":2700},{"beta":"0.85","t":24,"v":4500},{"beta":"0.85","t":25,"v":6000},{"beta":"0.85","t":26,"v":7300},{"beta":"0.85","t":28,"v":10400},{"beta":"0.85","t":30,"v":13500},{"beta":"0.85","t":32,"v":17000},{"beta":"0.85","t":34,"v":20000},{"beta":"0.85","t":36,"v":22900},{"beta":"0.85","t":38,"v":25300},{"beta":"0.85","t":40,"v":27300},{"beta":"0.85","t":42,"v":29000},{"beta":"0.85","t":44,"v":30500},{"beta":"0.85","t":46,"v":31700},{"beta":"0.85","t":48,"v":32600},{"beta":"0.85","t":50,"v":33600},{"beta":"0.85","t":51,"v":32400},{"beta":"0.85","t":52,"v":33500},{"beta":"0.85","t":53,"v":34900},{"beta":"0.85","t":54,"v":36000},{"beta":"0.85","t":55,"v":38600},{"beta":"0.85","t":56,"v":38500},{"beta":"0.85","t":57,"v":40500},{"beta":"0.85","t":58,"v":42400},{"beta":"0.85","t":59,"v":42000},{"beta":"0.85","t":60,"v":44300},{"beta":"0.85","t":61,"v":45000},{"beta":"0.85","t":62,"v":45500},{"beta":"0.85","t":63,"v":45000},{"beta":"0.85","t":64,"v":46100},{"beta":"0.85","t":65,"v":43000},{"beta":"0.85","t":66,"v":44500},{"beta":"0.85","t":67,"v":46100},{"beta":"0.85","t":68,"v":47000},{"beta":"0.85","t":69,"v":47400},{"beta":"0.85","t":70,"v":49300},{"beta":"0.85","t":71,"v":49500},{"beta":"0.85","t":72,"v":49900},{"beta":"0.85","t":73,"v":53000},{"beta":"0.85","t":74,"v":59900},{"beta":"0.85","t":75,"v":56800},{"beta":"0.85","t":76,"v":55000},{"beta":"0.85","t":77,"v":53000},{"beta":"0.85","t":78,"v":54900},{"beta":"0.85","t":79,"v":53500},{"beta":"0.85","t":80,"v":54300},{"beta":"0.85","t":81,"v":53500},{"beta":"0.85","t":82,"v":51800},{"beta":"0.85","t":83,"v":56800},{"beta":"0.85","t":84,"v":56000},{"beta":"0.85","t":85,"v":55500},{"beta":"0.85","t":86,"v":54500},{"beta":"0.85","t":87,"v":53000},{"beta":"0.85","t":88,"v":56200},{"beta":"0.85","t":89,"v":55000},{"beta":"0.85","t":90,"v":54900},{"beta":"0.85","t":91,"v":55500},{"beta":"0.85","t":92,"v":56200},{"beta":"0.85","t":93,"v":55500},{"beta":"0.85","t":94,"v":56200},{"beta":"0.85","t":95,"v":53000},{"beta":"0.85","t":96,"v":51000},{"beta":"0.85","t":97,"v":49300},{"beta":"0.85","t":98,"v":50500},{"beta":"0.85","t":99,"v":54900},{"beta":"0.85","t":100,"v":56200},
{"beta":"0.75","t":0,"v":0},{"beta":"0.75","t":10,"v":100},{"beta":"0.75","t":15,"v":300},{"beta":"0.75","t":20,"v":800},{"beta":"0.75","t":22,"v":1200},{"beta":"0.75","t":25,"v":2300},{"beta":"0.75","t":26,"v":3000},{"beta":"0.75","t":28,"v":4800},{"beta":"0.75","t":30,"v":7300},{"beta":"0.75","t":32,"v":11000},{"beta":"0.75","t":34,"v":15200},{"beta":"0.75","t":36,"v":19800},{"beta":"0.75","t":38,"v":24000},{"beta":"0.75","t":40,"v":28000},{"beta":"0.75","t":42,"v":32200},{"beta":"0.75","t":43,"v":34200},{"beta":"0.75","t":44,"v":36000},{"beta":"0.75","t":46,"v":38600},{"beta":"0.75","t":48,"v":41100},{"beta":"0.75","t":50,"v":42400},{"beta":"0.75","t":51,"v":41500},{"beta":"0.75","t":52,"v":44900},{"beta":"0.75","t":53,"v":47400},{"beta":"0.75","t":54,"v":49000},{"beta":"0.75","t":55,"v":49900},{"beta":"0.75","t":56,"v":50000},{"beta":"0.75","t":57,"v":51200},{"beta":"0.75","t":58,"v":53700},{"beta":"0.75","t":59,"v":57400},{"beta":"0.75","t":60,"v":59300},{"beta":"0.75","t":61,"v":62400},{"beta":"0.75","t":62,"v":62000},{"beta":"0.75","t":63,"v":58700},{"beta":"0.75","t":64,"v":61800},{"beta":"0.75","t":65,"v":70000},{"beta":"0.75","t":66,"v":63700},{"beta":"0.75","t":67,"v":65000},{"beta":"0.75","t":68,"v":65600},{"beta":"0.75","t":69,"v":64300},{"beta":"0.75","t":70,"v":63700},{"beta":"0.75","t":71,"v":66200},{"beta":"0.75","t":72,"v":70000},{"beta":"0.75","t":72.5,"v":75900},{"beta":"0.75","t":73,"v":70600},{"beta":"0.75","t":74,"v":63700},{"beta":"0.75","t":75,"v":58700},{"beta":"0.75","t":76,"v":54300},{"beta":"0.75","t":77,"v":51200},{"beta":"0.75","t":78,"v":48700},{"beta":"0.75","t":79,"v":49500},{"beta":"0.75","t":80,"v":48000},{"beta":"0.75","t":81,"v":54900},{"beta":"0.75","t":82,"v":63100},{"beta":"0.75","t":83,"v":59900},{"beta":"0.75","t":84,"v":57400},{"beta":"0.75","t":85,"v":64300},{"beta":"0.75","t":86,"v":61200},{"beta":"0.75","t":87,"v":56200},{"beta":"0.75","t":88,"v":58700},{"beta":"0.75","t":89,"v":59900},{"beta":"0.75","t":90,"v":58700},{"beta":"0.75","t":91,"v":56200},{"beta":"0.75","t":92,"v":54300},{"beta":"0.75","t":93,"v":53700},{"beta":"0.75","t":94,"v":51800},{"beta":"0.75","t":95,"v":52400},{"beta":"0.75","t":96,"v":49300},{"beta":"0.75","t":97,"v":46800},{"beta":"0.75","t":98,"v":46100},{"beta":"0.75","t":99,"v":44300},{"beta":"0.75","t":100,"v":45500}
],
"A":[
{"beta":"0.99","t":0,"v":0},{"beta":"0.99","t":5,"v":30},{"beta":"0.99","t":10,"v":150},{"beta":"0.99","t":13,"v":300},{"beta":"0.99","t":15,"v":450},{"beta":"0.99","t":17,"v":700},{"beta":"0.99","t":18,"v":900},{"beta":"0.99","t":19,"v":1100},{"beta":"0.99","t":20,"v":1400},{"beta":"0.99","t":21,"v":1800},{"beta":"0.99","t":22,"v":2300},{"beta":"0.99","t":23,"v":3000},{"beta":"0.99","t":24,"v":4000},{"beta":"0.99","t":25,"v":5300},{"beta":"0.99","t":26,"v":6000},{"beta":"0.99","t":27,"v":6700},{"beta":"0.99","t":28,"v":7400},{"beta":"0.99","t":30,"v":8800},{"beta":"0.99","t":32,"v":10000},{"beta":"0.99","t":34,"v":11000},{"beta":"0.99","t":36,"v":11900},{"beta":"0.99","t":38,"v":12400},{"beta":"0.99","t":40,"v":12800},{"beta":"0.99","t":42,"v":13100},{"beta":"0.99","t":45,"v":13500},{"beta":"0.99","t":48,"v":13800},{"beta":"0.99","t":50,"v":14000},{"beta":"0.99","t":51,"v":14300},{"beta":"0.99","t":52,"v":14700},{"beta":"0.99","t":53,"v":15500},{"beta":"0.99","t":54,"v":16400},{"beta":"0.99","t":55,"v":16000},{"beta":"0.99","t":56,"v":16800},{"beta":"0.99","t":57,"v":16600},{"beta":"0.99","t":58,"v":17100},{"beta":"0.99","t":59,"v":17800},{"beta":"0.99","t":60,"v":20100},{"beta":"0.99","t":61,"v":17800},{"beta":"0.99","t":62,"v":18200},{"beta":"0.99","t":63,"v":19200},{"beta":"0.99","t":64,"v":18800},{"beta":"0.99","t":65,"v":19400},{"beta":"0.99","t":66,"v":19200},{"beta":"0.99","t":67,"v":18900},{"beta":"0.99","t":68,"v":20400},{"beta":"0.99","t":69,"v":20000},{"beta":"0.99","t":70,"v":20800},{"beta":"0.99","t":71,"v":21000},{"beta":"0.99","t":72,"v":19400},{"beta":"0.99","t":73,"v":17500},{"beta":"0.99","t":74,"v":16600},{"beta":"0.99","t":75,"v":16400},{"beta":"0.99","t":76,"v":17000},{"beta":"0.99","t":77,"v":17300},{"beta":"0.99","t":78,"v":17500},{"beta":"0.99","t":79,"v":18000},{"beta":"0.99","t":80,"v":18500},{"beta":"0.99","t":81,"v":19200},{"beta":"0.99","t":82,"v":19900},{"beta":"0.99","t":83,"v":20200},{"beta":"0.99","t":84,"v":20600},{"beta":"0.99","t":85,"v":23400},{"beta":"0.99","t":86,"v":20400},{"beta":"0.99","t":87,"v":20000},{"beta":"0.99","t":88,"v":19700},{"beta":"0.99","t":89,"v":19400},{"beta":"0.99","t":90,"v":19900},{"beta":"0.99","t":91,"v":20400},{"beta":"0.99","t":92,"v":19000},{"beta":"0.99","t":93,"v":17500},{"beta":"0.99","t":94,"v":16600},{"beta":"0.99","t":95,"v":16100},{"beta":"0.99","t":96,"v":15800},{"beta":"0.99","t":97,"v":16600},{"beta":"0.99","t":98,"v":15900},{"beta":"0.99","t":99,"v":15600},{"beta":"0.99","t":100,"v":15400},
{"beta":"0.85","t":0,"v":0},{"beta":"0.85","t":10,"v":80},{"beta":"0.85","t":15,"v":250},{"beta":"0.85","t":18,"v":400},{"beta":"0.85","t":20,"v":600},{"beta":"0.85","t":22,"v":1000},{"beta":"0.85","t":24,"v":1700},{"beta":"0.85","t":25,"v":2300},{"beta":"0.85","t":26,"v":2700},{"beta":"0.85","t":28,"v":3900},{"beta":"0.85","t":30,"v":5300},{"beta":"0.85","t":32,"v":6600},{"beta":"0.85","t":34,"v":7800},{"beta":"0.85","t":36,"v":9100},{"beta":"0.85","t":38,"v":10100},{"beta":"0.85","t":40,"v":11000},{"beta":"0.85","t":42,"v":11600},{"beta":"0.85","t":44,"v":12200},{"beta":"0.85","t":46,"v":12600},{"beta":"0.85","t":48,"v":12900},{"beta":"0.85","t":50,"v":13300},{"beta":"0.85","t":51,"v":12800},{"beta":"0.85","t":52,"v":13200},{"beta":"0.85","t":53,"v":13800},{"beta":"0.85","t":54,"v":14400},{"beta":"0.85","t":55,"v":15400},{"beta":"0.85","t":56,"v":15200},{"beta":"0.85","t":57,"v":16100},{"beta":"0.85","t":58,"v":16800},{"beta":"0.85","t":59,"v":16600},{"beta":"0.85","t":60,"v":17500},{"beta":"0.85","t":61,"v":17800},{"beta":"0.85","t":62,"v":18200},{"beta":"0.85","t":63,"v":18000},{"beta":"0.85","t":64,"v":18500},{"beta":"0.85","t":65,"v":16800},{"beta":"0.85","t":66,"v":17600},{"beta":"0.85","t":67,"v":18200},{"beta":"0.85","t":68,"v":18600},{"beta":"0.85","t":69,"v":18900},{"beta":"0.85","t":70,"v":19700},{"beta":"0.85","t":71,"v":19800},{"beta":"0.85","t":72,"v":19900},{"beta":"0.85","t":73,"v":21100},{"beta":"0.85","t":74,"v":23900},{"beta":"0.85","t":75,"v":22500},{"beta":"0.85","t":76,"v":21800},{"beta":"0.85","t":77,"v":21100},{"beta":"0.85","t":78,"v":21500},{"beta":"0.85","t":79,"v":21000},{"beta":"0.85","t":80,"v":21300},{"beta":"0.85","t":81,"v":21000},{"beta":"0.85","t":82,"v":20400},{"beta":"0.85","t":83,"v":22200},{"beta":"0.85","t":84,"v":21800},{"beta":"0.85","t":85,"v":21500},{"beta":"0.85","t":86,"v":21200},{"beta":"0.85","t":87,"v":20600},{"beta":"0.85","t":88,"v":22000},{"beta":"0.85","t":89,"v":21500},{"beta":"0.85","t":90,"v":21500},{"beta":"0.85","t":91,"v":21800},{"beta":"0.85","t":92,"v":22000},{"beta":"0.85","t":93,"v":21700},{"beta":"0.85","t":94,"v":22000},{"beta":"0.85","t":95,"v":20800},{"beta":"0.85","t":96,"v":20000},{"beta":"0.85","t":97,"v":18900},{"beta":"0.85","t":98,"v":19700},{"beta":"0.85","t":99,"v":21800},{"beta":"0.85","t":100,"v":22200},
{"beta":"0.75","t":0,"v":0},{"beta":"0.75","t":10,"v":40},{"beta":"0.75","t":15,"v":120},{"beta":"0.75","t":20,"v":300},{"beta":"0.75","t":22,"v":400},{"beta":"0.75","t":25,"v":600},{"beta":"0.75","t":26,"v":900},{"beta":"0.75","t":28,"v":1600},{"beta":"0.75","t":30,"v":2500},{"beta":"0.75","t":32,"v":3800},{"beta":"0.75","t":34,"v":5400},{"beta":"0.75","t":36,"v":7200},{"beta":"0.75","t":38,"v":8900},{"beta":"0.75","t":40,"v":10500},{"beta":"0.75","t":42,"v":12200},{"beta":"0.75","t":43,"v":13100},{"beta":"0.75","t":44,"v":13800},{"beta":"0.75","t":46,"v":15000},{"beta":"0.75","t":48,"v":15900},{"beta":"0.75","t":50,"v":16600},{"beta":"0.75","t":51,"v":16200},{"beta":"0.75","t":52,"v":17500},{"beta":"0.75","t":53,"v":18500},{"beta":"0.75","t":54,"v":19000},{"beta":"0.75","t":55,"v":19700},{"beta":"0.75","t":56,"v":19800},{"beta":"0.75","t":57,"v":20100},{"beta":"0.75","t":58,"v":21300},{"beta":"0.75","t":59,"v":22700},{"beta":"0.75","t":60,"v":23600},{"beta":"0.75","t":61,"v":24800},{"beta":"0.75","t":62,"v":24600},{"beta":"0.75","t":63,"v":23400},{"beta":"0.75","t":64,"v":24400},{"beta":"0.75","t":65,"v":27600},{"beta":"0.75","t":66,"v":25300},{"beta":"0.75","t":67,"v":25800},{"beta":"0.75","t":68,"v":26000},{"beta":"0.75","t":69,"v":25300},{"beta":"0.75","t":70,"v":25100},{"beta":"0.75","t":71,"v":26000},{"beta":"0.75","t":72,"v":27900},{"beta":"0.75","t":72.5,"v":29900},{"beta":"0.75","t":73,"v":28100},{"beta":"0.75","t":74,"v":25100},{"beta":"0.75","t":75,"v":22900},{"beta":"0.75","t":76,"v":21300},{"beta":"0.75","t":77,"v":20100},{"beta":"0.75","t":78,"v":19200},{"beta":"0.75","t":79,"v":19500},{"beta":"0.75","t":80,"v":18900},{"beta":"0.75","t":81,"v":21500},{"beta":"0.75","t":82,"v":24800},{"beta":"0.75","t":83,"v":23400},{"beta":"0.75","t":84,"v":22700},{"beta":"0.75","t":85,"v":25300},{"beta":"0.75","t":86,"v":24100},{"beta":"0.75","t":87,"v":22200},{"beta":"0.75","t":88,"v":23200},{"beta":"0.75","t":89,"v":23600},{"beta":"0.75","t":90,"v":23200},{"beta":"0.75","t":91,"v":22200},{"beta":"0.75","t":92,"v":21500},{"beta":"0.75","t":93,"v":21300},{"beta":"0.75","t":94,"v":20400},{"beta":"0.75","t":95,"v":20600},{"beta":"0.75","t":96,"v":19200},{"beta":"0.75","t":97,"v":18000},{"beta":"0.75","t":98,"v":17500},{"beta":"0.75","t":99,"v":16800},{"beta":"0.75","t":100,"v":17500}
]
},
"vconcat":[
{"hconcat":[
{"width":5,"height":213,"data":{"values":[]},"mark":{"type":"point"},"encoding":{},"view":{"stroke":null}},
{"hconcat":[
{"width":324,"height":213,"data":{"name":"S"},
 "title":{"text":"×10⁴"},
 "mark":{"type":"line","strokeWidth":4.8,"strokeCap":"round","strokeJoin":"round","clip":true},
 "encoding":{
  "x":{"field":"t","type":"quantitative","scale":{"domain":[0,100],"nice":false},"axis":{"values":[0,10,20,30,40,50,60,70,80,90,100],"title":"t"}},
  "y":{"field":"v","type":"quantitative","scale":{"domain":[0,70000],"nice":false},"axis":{"values":[0,10000,20000,30000,40000,50000,60000,70000],"labelExpr":"datum.value/10000","title":"𝒮","titleX":-23}},
  "color":{"field":"beta","type":"nominal","scale":{"domain":["0.99","0.85","0.75"],"range":["#00ff00","#ff0000","#0000ff"]},
   "legend":{"legendX":183,"legendY":5,"rowPadding":18,"labelExpr":"'β=' + datum.label + ', β(t)=0.80-0.0003*t'"}}
 }},
{"width":323,"height":213,"data":{"name":"I"},
 "mark":{"type":"line","strokeWidth":4.8,"strokeCap":"round","strokeJoin":"round","clip":true},
 "encoding":{
  "x":{"field":"t","type":"quantitative","scale":{"domain":[0,100],"nice":false},"axis":{"values":[0,10,20,30,40,50,60,70,80,90,100],"title":"t"}},
  "y":{"field":"v","type":"quantitative","scale":{"domain":[0,1000],"nice":false},"axis":{"values":[0,100,200,300,400,500,600,700,800,900,1000],"format":"d","title":"ℐ","titleX":-34}},
  "color":{"field":"beta","type":"nominal","scale":{"domain":["0.99","0.85","0.75"],"range":["#00ff00","#ff0000","#0000ff"]},
   "legend":{"legendX":184,"legendY":5,"rowPadding":12.5,"labelExpr":"'β=' + datum.label + ', β(t)=0.80-0.0003*t'"}}
 }},
{"width":323,"height":213,"data":{"name":"H"},
 "mark":{"type":"line","strokeWidth":4.8,"strokeCap":"round","strokeJoin":"round","clip":true},
 "encoding":{
  "x":{"field":"t","type":"quantitative","scale":{"domain":[0,100],"nice":false},"axis":{"values":[0,10,20,30,40,50,60,70,80,90,100],"title":"t"}},
  "y":{"field":"v","type":"quantitative","scale":{"domain":[0,700],"nice":false},"axis":{"values":[0,100,200,300,400,500,600,700],"title":"ℋ","titleX":-24}},
  "color":{"field":"beta","type":"nominal","scale":{"domain":["0.99","0.85","0.75"],"range":["#00ff00","#ff0000","#0000ff"]},
   "legend":{"legendX":180,"legendY":7,"rowPadding":12.5,"labelExpr":"(datum.label=='0.99' ? 'β =' : 'β=') + datum.label + ', β(t)=0.80-0.0003*t'"}}
 }}
],"spacing":101,"bounds":"flush","resolve":{"scale":{"color":"independent"},"legend":{"color":"independent"}}}
],"spacing":0,"bounds":"flush","resolve":{"scale":{"color":"independent"},"legend":{"color":"independent"}}},
{"hconcat":[
{"width":324,"height":213,"data":{"name":"R"},
 "title":{"text":"×10⁴"},
 "mark":{"type":"line","strokeWidth":4.8,"strokeCap":"round","strokeJoin":"round","clip":true},
 "encoding":{
  "x":{"field":"t","type":"quantitative","scale":{"domain":[0,100],"nice":false},"axis":{"values":[0,10,20,30,40,50,60,70,80,90,100],"title":"t"}},
  "y":{"field":"v","type":"quantitative","scale":{"domain":[0,90000],"nice":false},"axis":{"values":[0,10000,20000,30000,40000,50000,60000,70000,80000,90000],"labelExpr":"datum.value/10000","title":"ℛ","titleX":-23}},
  "color":{"field":"beta","type":"nominal","scale":{"domain":["0.99","0.85","0.75"],"range":["#00ff00","#ff0000","#0000ff"]},
   "legend":{"legendX":5,"legendY":5,"rowPadding":27.5,"labelExpr":"datum.label=='0.75' ? 'β=0.75 β(t)=0.80-0.0003*t' : 'β=' + datum.label + ', β(t)=0.80-0.0003*t'"}}
 }},
{"width":326,"height":213,"data":{"name":"F"},
 "title":{"text":"×10⁴"},
 "mark":{"type":"line","strokeWidth":4.8,"strokeCap":"round","strokeJoin":"round","clip":true},
 "encoding":{
  "x":{"field":"t","type":"quantitative","scale":{"domain":[0,100],"nice":false},"axis":{"values":[0,10,20,30,40,50,60,70,80,90,100],"title":"t"}},
  "y":{"field":"v","type":"quantitative","scale":{"domain":[0,80000],"nice":false},"axis":{"values":[0,10000,20000,30000,40000,50000,60000,70000,80000],"labelExpr":"datum.value/10000","title":"ℱ","titleX":-25}},
  "color":{"field":"beta","type":"nominal","scale":{"domain":["0.99","0.85","0.75"],"range":["#00ff00","#ff0000","#0000ff"]},
   "legend":{"legendX":10,"legendY":4,"rowPadding":25.5,"labelExpr":"'β=' + datum.label + ', β(t)=0.80-0.0003*t'"}}
 }},
{"width":324,"height":213,"data":{"name":"A"},
 "title":{"text":"×10⁴"},
 "mark":{"type":"line","strokeWidth":4.8,"strokeCap":"round","strokeJoin":"round","clip":true},
 "encoding":{
  "x":{"field":"t","type":"quantitative","scale":{"domain":[0,100],"nice":false},"axis":{"values":[0,10,20,30,40,50,60,70,80,90,100],"title":"t"}},
  "y":{"field":"v","type":"quantitative","scale":{"domain":[0,30000],"nice":false},"axis":{"values":[0,5000,10000,15000,20000,25000,30000],"labelExpr":"datum.value/10000","title":"A","titleX":-29,"titleFont":"Liberation Sans","titleFontStyle":"normal","titleFontSize":13}},
  "color":{"field":"beta","type":"nominal","scale":{"domain":["0.99","0.85","0.75"],"range":["#00ff00","#ff0000","#0000ff"]},
   "legend":{"legendX":7,"legendY":3,"rowPadding":26,"labelExpr":"'β=' + datum.label + ', β(t)=0.80-0.0003*t'"}}
 }}
],"spacing":100,"bounds":"flush","resolve":{"scale":{"color":"independent"},"legend":{"color":"independent"}}}
],
"spacing":11,
"resolve":{"scale":{"color":"independent"},"legend":{"color":"independent"}},
"config":{
 "font":"Liberation Sans",
 "view":{"stroke":"#c4c4c4","strokeWidth":1},
 "axis":{"labelFont":"Liberation Sans","labelFontWeight":"bold","labelFontSize":10,"labelColor":"#262626","domainColor":"#8a8a8a","tickColor":"#8a8a8a","tickSize":3,"gridColor":"#e8e8e8","labelPadding":2,"labelFlush":false,"labelOverlap":false,"titleColor":"#262626"},
 "axisX":{"titleFontWeight":"bold","titleFontSize":11,"titlePadding":2},
 "axisY":{"titleAngle":0,"titleFontWeight":"normal","titleFont":"DejaVu Serif","titleFontStyle":"italic","titleFontSize":16,"titleAlign":"center","titleBaseline":"middle","titleY":106},
 "legend":{"orient":"none","title":null,"padding":10,"fillColor":"white","strokeColor":"#a6a6a6","symbolType":"circle","symbolSize":28,"symbolStrokeWidth":1,"symbolFillColor":"transparent","labelFont":"Liberation Sans","labelFontWeight":"bold","labelFontSize":9,"labelColor":"#262626","labelLimit":220,"labelOffset":5},
 "title":{"anchor":"start","frame":"group","fontSize":9,"fontWeight":"normal","color":"#262626","offset":-4,"dx":1,"font":"Liberation Sans"}
}
}
